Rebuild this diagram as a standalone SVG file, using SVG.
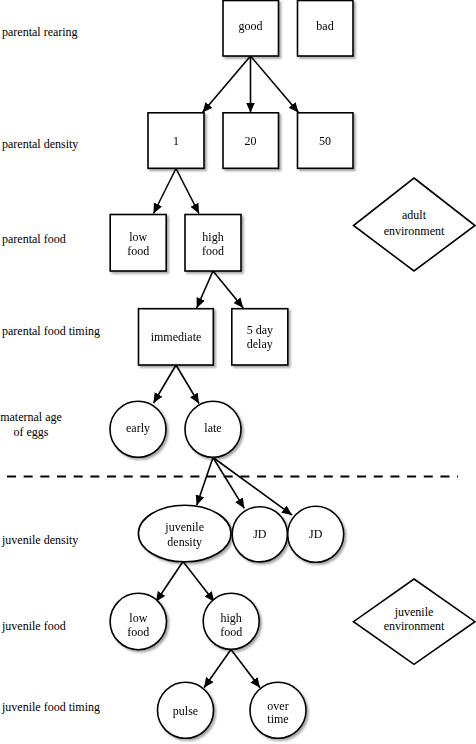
<svg xmlns="http://www.w3.org/2000/svg" width="476" height="744" viewBox="0 0 476 744">
<style>
text{font-family:"Liberation Serif","Times New Roman","DejaVu Serif",serif;font-size:12px;fill:#000}
.c{text-anchor:middle}
.n{fill:#fff;stroke:#000;stroke-width:1.6}
.nd{filter:url(#sh)}
.e{stroke:#000;stroke-width:1.6;fill:none;marker-end:url(#ah)}
</style>
<defs>
<filter id="sh" x="-20%" y="-20%" width="150%" height="150%">
<feDropShadow dx="2" dy="2" stdDeviation="1.3" flood-color="#000" flood-opacity="0.35"/>
</filter>
<marker id="ah" markerUnits="userSpaceOnUse" markerWidth="12" markerHeight="10" refX="10" refY="4.5" orient="auto">
<path d="M0,0 L10,4.5 L0,9 Z" fill="#000"/>
</marker>
</defs>
<rect width="476" height="744" fill="#fff"/>
<g id="row-labels" font-family="Liberation Serif, serif">
<text x="2" y="35.5">parental rearing</text>
<text x="2" y="148">parental density</text>
<text x="2" y="243">parental food</text>
<text x="2" y="334.5">parental food timing</text>
<text class="c" x="31" y="420.5">maternal age</text>
<text class="c" x="31" y="435.5">of eggs</text>
<text x="2" y="544">juvenile density</text>
<text x="2" y="629.5">juvenile food</text>
<text x="2" y="710.5">juvenile food timing</text>
</g>
<line x1="7" y1="476.5" x2="458" y2="476.5" stroke="#000" stroke-width="2.2" stroke-dasharray="9 7.67"/>
<g id="connectors">
<line class="e" x1="250.5" y1="56" x2="202.5" y2="112.5"/>
<line class="e" x1="250.5" y1="56" x2="250.5" y2="112.5"/>
<line class="e" x1="250.5" y1="56" x2="298.5" y2="112.5"/>
<line class="e" x1="176" y1="168.5" x2="153.5" y2="213.5"/>
<line class="e" x1="176" y1="168.5" x2="199" y2="213.5"/>
<line class="e" x1="213" y1="271" x2="196.7" y2="308"/>
<line class="e" x1="213" y1="271" x2="243.3" y2="308"/>
<line class="e" x1="176" y1="365" x2="153.5" y2="403"/>
<line class="e" x1="176" y1="365" x2="199" y2="403.5"/>
<line class="e" x1="213" y1="457.5" x2="196.7" y2="505.3"/>
<line class="e" x1="213" y1="457.5" x2="244.3" y2="508.3"/>
<line class="e" x1="213" y1="457.5" x2="292" y2="515"/>
<line class="e" x1="183" y1="561.5" x2="156" y2="601.7"/>
<line class="e" x1="183" y1="561.5" x2="214.3" y2="601.7"/>
<line class="e" x1="231" y1="649.5" x2="204" y2="687.7"/>
<line class="e" x1="231" y1="649.5" x2="260" y2="687.7"/>
</g>
<g id="good" class="nd"><rect class="n" x="223" y="0.5" width="55.5" height="55.5"/><text class="c" x="250.5" y="29.5">good</text></g>
<g id="bad" class="nd"><rect class="n" x="297.5" y="0.5" width="55.5" height="55.5"/><text class="c" x="325" y="29.5">bad</text></g>
<g id="d1" class="nd"><rect class="n" x="148" y="112.8" width="56" height="55.5"/><text class="c" x="176" y="145">1</text></g>
<g id="d20" class="nd"><rect class="n" x="223" y="112.8" width="55.5" height="55.5"/><text class="c" x="250.5" y="145">20</text></g>
<g id="d50" class="nd"><rect class="n" x="297.5" y="112.8" width="55.5" height="55.5"/><text class="c" x="325" y="145">50</text></g>
<g id="plow" class="nd"><rect class="n" x="110.2" y="214.5" width="56" height="56.5"/><text class="c" x="138.2" y="240.5">low</text><text class="c" x="138.2" y="255">food</text></g>
<g id="phigh" class="nd"><rect class="n" x="185" y="214.5" width="56" height="56.5"/><text class="c" x="213" y="240.5">high</text><text class="c" x="213" y="255">food</text></g>
<g id="immediate" class="nd"><rect class="n" x="138.5" y="308.7" width="74.8" height="56.3"/><text class="c" x="176" y="340.5">immediate</text></g>
<g id="delay" class="nd"><rect class="n" x="231.8" y="308.7" width="56" height="56.3"/><text class="c" x="259.8" y="334">5 day</text><text class="c" x="259.8" y="348">delay</text></g>
<g id="adult-env"><polygon class="n" points="414,178 475,225.5 414,271 353.5,225.5"/><text class="c" x="414" y="219">adult</text><text class="c" x="414" y="235">environment</text></g>
<g id="early" class="nd"><circle class="n" cx="138" cy="429.3" r="28"/><text class="c" x="138" y="432">early</text></g>
<g id="late" class="nd"><circle class="n" cx="213" cy="429.3" r="28"/><text class="c" x="213" y="432">late</text></g>
<g id="jdensity" class="nd"><ellipse class="n" cx="184.7" cy="533.5" rx="46.3" ry="28.3"/><text class="c" x="184.7" y="530.5">juvenile</text><text class="c" x="184.7" y="545.5">density</text></g>
<g id="jd1" class="nd"><circle class="n" cx="259.8" cy="534.3" r="27.6"/><text class="c" x="259.8" y="538">JD</text></g>
<g id="jd2" class="nd"><circle class="n" cx="315.7" cy="534.3" r="28"/><text class="c" x="315.7" y="538">JD</text></g>
<g id="jlow" class="nd"><circle class="n" cx="138.3" cy="621.5" r="28.2"/><text class="c" x="138.3" y="622">low</text><text class="c" x="138.3" y="636">food</text></g>
<g id="jhigh" class="nd"><circle class="n" cx="231.2" cy="621.3" r="28"/><text class="c" x="231.2" y="622">high</text><text class="c" x="231.2" y="636">food</text></g>
<g id="juv-env"><polygon class="n" points="414,579 475,621.7 414,664.3 353.5,621.7"/><text class="c" x="414" y="615.5">juvenile</text><text class="c" x="414" y="629.5">environment</text></g>
<g id="pulse" class="nd"><circle class="n" cx="185.5" cy="710.3" r="28"/><text class="c" x="185.5" y="714.5">pulse</text></g>
<g id="overtime" class="nd"><circle class="n" cx="278" cy="710.3" r="28"/><text class="c" x="278" y="709.5">over</text><text class="c" x="278" y="723">time</text></g>
</svg>
